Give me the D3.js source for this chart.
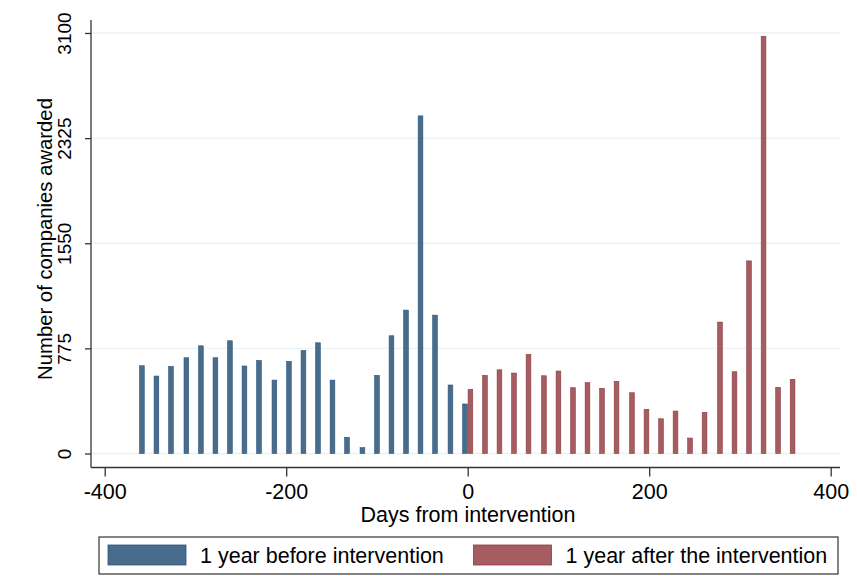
<!DOCTYPE html>
<html>
<head>
<meta charset="utf-8">
<script src="https://cdn.jsdelivr.net/npm/d3@7/dist/d3.min.js"></script>
<style>
  html, body { margin: 0; padding: 0; background: #ffffff; }
  svg { display: block; font-family: "Liberation Sans", Arial, sans-serif; }
</style>
</head>
<body>
<svg id="chart" width="857" height="576"></svg>
<script>
// Days from intervention (bin midpoints) and number of companies awarded
const daysBefore = [-359, -343, -327, -310, -294, -278, -262, -246, -230, -213, -197, -181,
                    -165, -149, -133, -116, -100, -84, -68, -52, -36, -19, -3];
const countsBefore = [647, 571, 642, 706, 794, 706, 831, 645, 686, 541, 679, 760,
                      816, 541, 119, 43, 576, 868, 1057, 2489, 1020, 505, 365];

const daysAfter = [3, 19, 35, 51, 67, 84, 100, 116, 132, 148, 164, 181,
                   197, 213, 229, 245, 261, 278, 294, 310, 326, 342, 358];
const countsAfter = [473, 576, 617, 593, 731, 573, 608, 485, 522, 480, 532, 448,
                     326, 256, 313, 114, 303, 969, 603, 1420, 3076, 488, 547];

const xTicks = [-400, -200, 0, 200, 400];
const yTicks = [0, 775, 1550, 2325, 3100];

const seriesNames = ["1 year before intervention", "1 year after the intervention"];

const svg = d3.select("#chart");

const plotLeft = 91, plotRight = 840, plotTop = 20, plotBottom = 467.5;

const x = d3.scaleLinear().domain([-400, 400]).range([104.7, 830.7]);
const y = d3.scaleLinear().domain([0, 3100]).range([453.5, 33]);

const barDays = 5.2;
const barW = x(barDays) - x(0);

const colors = {
  before: { fill: "#486c8c", stroke: "#2c557b" },
  after:  { fill: "#a65d62", stroke: "#8f3a41" }
};

// Horizontal gridlines
svg.append("g")
  .selectAll("line")
  .data(yTicks)
  .join("line")
  .attr("x1", plotLeft)
  .attr("x2", plotRight)
  .attr("y1", d => y(d))
  .attr("y2", d => y(d))
  .attr("stroke", "#eaf2f3")
  .attr("stroke-width", 1.4);

// Bars
function drawBars(days, counts, col) {
  svg.append("g")
    .selectAll("rect")
    .data(days.map((d, i) => ({ day: d, count: counts[i] })))
    .join("rect")
    .attr("x", d => x(d.day) - barW / 2)
    .attr("width", barW)
    .attr("y", d => y(d.count))
    .attr("height", d => y(0) - y(d.count))
    .attr("fill", col.fill)
    .attr("stroke", col.stroke)
    .attr("stroke-width", 0.6);
}
drawBars(daysBefore, countsBefore, colors.before);
drawBars(daysAfter, countsAfter, colors.after);

// Axes
const xAxis = d3.axisBottom(x).tickValues(xTicks).tickSize(9).tickPadding(7.5).tickFormat(d3.format("d"));
const gx = svg.append("g").attr("transform", `translate(0,${plotBottom})`).call(xAxis);
gx.select(".domain").remove();
gx.selectAll(".tick line").attr("stroke", "#333").attr("stroke-width", 1.3);
gx.selectAll(".tick text")
  .attr("fill", "#000")
  .style("font-size", "21.5px")
  .text(d => d < 0 ? "-" + Math.abs(d) : d);

const yAxis = d3.axisLeft(y).tickValues(yTicks).tickSize(6).tickFormat(d3.format("d"));
const gy = svg.append("g").attr("transform", `translate(${plotLeft},0)`).call(yAxis);
gy.select(".domain").remove();
gy.selectAll(".tick line").attr("stroke", "#333").attr("stroke-width", 1.3);
gy.selectAll(".tick text")
  .attr("fill", "#000")
  .attr("x", null).attr("dy", null)
  .attr("text-anchor", "middle")
  .attr("transform", "translate(-20,0) rotate(-90)")
  .style("font-size", "19px");

// Axis lines
svg.append("line")
  .attr("x1", plotLeft).attr("x2", plotRight)
  .attr("y1", plotBottom).attr("y2", plotBottom)
  .attr("stroke", "#333").attr("stroke-width", 1.3);
svg.append("line")
  .attr("x1", plotLeft).attr("x2", plotLeft)
  .attr("y1", plotTop).attr("y2", plotBottom)
  .attr("stroke", "#333").attr("stroke-width", 1.3);

// Axis titles
svg.append("text")
  .attr("x", 468).attr("y", 521.5)
  .attr("text-anchor", "middle")
  .style("font-size", "21.5px")
  .text("Days from intervention");

svg.append("text")
  .attr("transform", "translate(51.5,239) rotate(-90)")
  .attr("text-anchor", "middle")
  .style("font-size", "20.3px")
  .text("Number of companies awarded");

// Legend
const legend = svg.append("g");
legend.append("rect")
  .attr("x", 99).attr("y", 537)
  .attr("width", 739).attr("height", 37)
  .attr("fill", "#fff")
  .attr("stroke", "#333").attr("stroke-width", 1.2);

const legendItems = [
  { name: seriesNames[0], col: colors.before, sx: 108 },
  { name: seriesNames[1], col: colors.after, sx: 473.5 }
];
legendItems.forEach(it => {
  legend.append("rect")
    .attr("x", it.sx).attr("y", 545)
    .attr("width", 78).attr("height", 20)
    .attr("fill", it.col.fill)
    .attr("stroke", it.col.stroke).attr("stroke-width", 0.8);
  legend.append("text")
    .attr("x", it.sx + 92).attr("y", 563)
    .style("font-size", "21.5px")
    .text(it.name);
});
</script>
</body>
</html>
